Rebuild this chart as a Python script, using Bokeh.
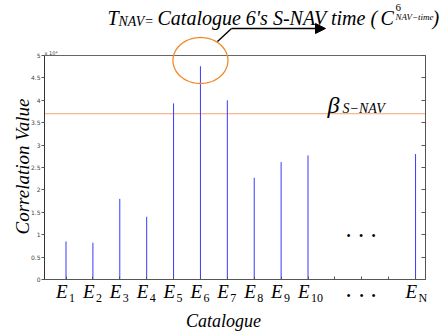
import math
from bokeh.plotting import figure
from bokeh.models import (Range1d, FixedTicker, LinearAxis, Label, LabelSet,
                          ColumnDataSource, Arrow, NormalHead, PolyAnnotation,
                          CustomJSTickFormatter)
from bokeh.embed import file_html
from bokeh.resources import INLINE

# ---- data ----
positions = [1, 2, 3, 4, 5, 6, 7, 8, 9, 10, 14]
values = [8500, 8200, 18000, 14000, 39300, 47600, 40000, 22700, 26200, 27700, 28000]
tick_positions = [1, 2, 3, 4, 5, 6, 7, 8, 9, 10, 11, 12, 13, 14]
label_main = ["E", "E", "E", "E", "E", "E", "E", "E", "E", "E", "E"]
label_sub = ["1", "2", "3", "4", "5", "6", "7", "8", "9", "10", "N"]
y_ticks = [0, 5000, 10000, 15000, 20000, 25000, 30000, 35000, 40000, 45000, 50000]
threshold = 37000
highlight_index = 5

W, H = 444, 333
FL, FR, FT, FB = 44, 425, 55, 279      # axes box in pixels
XMIN, XMAX = 0.2, 14.37
YMIN, YMAX = 0, 50000
SHIFT = -3   # baseline correction for text (pixels)

def dx(px):
    return XMIN + (px - FL) / (FR - FL) * (XMAX - XMIN)

def dy(py):
    return YMIN + (FB - py) / (FB - FT) * (YMAX - YMIN)

def ty(py):
    return dy(py + SHIFT)

def pxw(w):
    return w / (FR - FL) * (XMAX - XMIN)

def pxh(h):
    return h / (FB - FT) * (YMAX - YMIN)

SERIF = "Liberation Serif"
BLUE = "#3a3aff"

p = figure(width=W, height=H, output_backend="svg", toolbar_location=None,
           x_range=Range1d(dx(0), dx(W)), y_range=Range1d(dy(H), dy(0)),
           min_border=0, min_border_left=0, min_border_right=0,
           min_border_top=0, min_border_bottom=0,
           x_axis_location=None, y_axis_location=None)
p.grid.visible = False
p.outline_line_color = None
p.background_fill_color = "white"
p.border_fill_color = "white"

# axes box (axes pinned to the box edges)
yfmt = CustomJSTickFormatter(code="return (tick/10000).toString();")
left = LinearAxis(ticker=FixedTicker(ticks=y_ticks), formatter=yfmt,
                  fixed_location=XMIN, bounds=(YMIN, YMAX),
                  major_label_text_font_size="6px", major_label_text_color="#444444",
                  major_label_text_font="DejaVu Sans",
                  major_tick_in=0, major_tick_out=3, minor_tick_line_color=None,
                  axis_line_color="#333333", major_tick_line_color="#555555",
                  major_label_standoff=1)
p.add_layout(left, "left")
right = LinearAxis(ticker=FixedTicker(ticks=y_ticks), major_label_text_font_size="0px",
                   fixed_location=XMAX, bounds=(YMIN, YMAX),
                   major_tick_in=4, major_tick_out=0, minor_tick_line_color=None,
                   axis_line_color="#555555", major_tick_line_color="#555555")
p.add_layout(right, "right")
bottom = LinearAxis(ticker=FixedTicker(ticks=tick_positions), major_label_text_font_size="0px",
                    fixed_location=YMIN, bounds=(XMIN, XMAX),
                    major_tick_in=3, major_tick_out=0, minor_tick_line_color=None,
                    axis_line_color="#555555", major_tick_line_color="#555555")
p.add_layout(bottom, "below")
top = LinearAxis(ticker=FixedTicker(ticks=[]), major_label_text_font_size="0px",
                 fixed_location=YMAX, bounds=(XMIN, XMAX),
                 major_tick_in=0, major_tick_out=0, minor_tick_line_color=None,
                 axis_line_color="#666666")
p.add_layout(top, "above")

# threshold & stem baseline
p.segment(x0=[XMIN], y0=[threshold], x1=[XMAX], y1=[threshold],
          line_color="#f2a474", line_width=1)
p.segment(x0=[XMIN], y0=[0], x1=[XMAX], y1=[0], line_color=BLUE, line_width=1.2)

# stems
p.segment(x0=positions, y0=[0] * len(values), x1=positions, y1=values,
          line_color=BLUE, line_width=1)

# x tick labels (E with subscripts)
src = ColumnDataSource(dict(x=positions, main=label_main, sub=label_sub,
                            y=[ty(300.5)] * len(positions)))
p.add_layout(LabelSet(x="x", y="y", text="main", source=src, x_offset=-10,
                      text_font=SERIF, text_font_style="italic", text_font_size="19px",
                      text_color="black", text_align="left", text_baseline="alphabetic"))
p.add_layout(LabelSet(x="x", y="y", text="sub", source=src, x_offset=3, y_offset=-4,
                      text_font=SERIF, text_font_size="12px",
                      text_color="black", text_align="left", text_baseline="alphabetic"))

# ellipsis dots (inside and under the axis)
dot_src = ColumnDataSource(dict(x=[dx(348), dx(360.5), dx(373), dx(348), dx(361), dx(373)],
                                y=[dy(235)] * 3 + [dy(295.5)] * 3,
                                t=["\u2022"] * 6))
p.add_layout(LabelSet(x="x", y="y", text="t", source=dot_src, text_font="DejaVu Sans",
                      text_font_size="12px", text_color="black",
                      text_align="center", text_baseline="middle"))

# axis titles
p.add_layout(Label(x=dx(223), y=ty(323), text="Catalogue", text_font=SERIF,
                   text_font_style="italic", text_font_size="18px", text_color="black",
                   text_align="center", text_baseline="alphabetic"))
p.add_layout(Label(x=dx(22), y=dy(166), text="Correlation Value", angle=math.pi / 2,
                   text_font=SERIF, text_font_style="italic", text_font_size="19px",
                   text_color="black", text_align="center", text_baseline="middle"))
p.add_layout(Label(x=dx(44), y=dy(52), text="x 10\u2074", text_font="DejaVu Sans",
                   text_font_size="5px", text_color="#444444",
                   text_align="left", text_baseline="alphabetic"))

# beta label
p.add_layout(Label(x=dx(327), y=ty(107), text="\u03b2", text_font=SERIF,
                   text_font_style="italic", text_font_size="24px", text_color="black",
                   text_align="left", text_baseline="alphabetic"))
p.add_layout(Label(x=dx(342), y=ty(111), text="S\u2212NAV", text_font=SERIF,
                   text_font_style="italic", text_font_size="14px", text_color="black",
                   text_align="left", text_baseline="alphabetic"))

# title pieces
def tl(px, py, txt, size, style="italic"):
    p.add_layout(Label(x=dx(px), y=ty(py), text=txt, text_font=SERIF,
                       text_font_style=style, text_font_size=size, text_color="black",
                       text_align="left", text_baseline="alphabetic"))

tl(107, 20, "T", "20px")
tl(118, 24, "NAV=", "14px")
tl(157, 20, "Catalogue 6's S-NAV time (", "20px")
tl(380, 20, "C", "20px")
tl(395, 10, "6", "11px", "normal")
tl(395, 19, "NAV\u2212time", "9px")
tl(432, 20, ")", "20px")

# highlight ellipse around the top of the highlighted stem
cx = positions[highlight_index]
cy = dy(60)
rx, ry = pxw(27.5), pxh(23)
n = 80
exs = [cx + rx * math.cos(2 * math.pi * i / n) for i in range(n)]
eys = [cy + ry * math.sin(2 * math.pi * i / n) for i in range(n)]
p.add_layout(PolyAnnotation(xs=exs, ys=eys, fill_alpha=0, line_color="#f08a2c",
                            line_alpha=1.0, line_width=1.3))

# arrow
p.add_layout(Arrow(end=None, x_start=dx(217), y_start=dy(41), x_end=dx(231), y_end=dy(28),
                   line_color="black", line_width=1.4))
p.add_layout(Arrow(end=NormalHead(size=10, fill_color="black", line_color="black"),
                   x_start=dx(231), y_start=dy(28), x_end=dx(325), y_end=dy(28),
                   line_color="black", line_width=1.4))

open("out.html", "w").write(file_html(p, INLINE))
